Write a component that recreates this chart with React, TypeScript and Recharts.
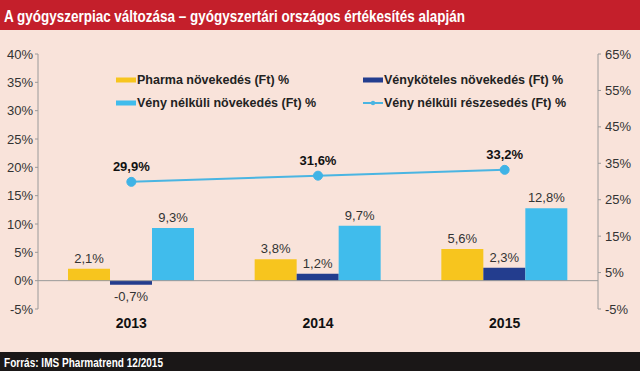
import React from 'react';
import {
  ComposedChart, Bar, Line, XAxis, YAxis, ReferenceLine, Legend, LabelList,
} from 'recharts';

const years = ['2013', '2014', '2015'];
const pharma = [2.1, 3.8, 5.6];
const venykoteles = [-0.7, 1.2, 2.3];
const venyNelkuliNov = [9.3, 9.7, 12.8];
const venyNelkuliResz = [29.9, 31.6, 33.2];
const leftTicks = [-5, 0, 5, 10, 15, 20, 25, 30, 35, 40];
const rightTicks = [-5, 5, 15, 25, 35, 45, 55, 65];

const seriesNames = {
  pharma: 'Pharma növekedés (Ft) %',
  venykoteles: 'Vényköteles növekedés (Ft) %',
  nov: 'Vény nélküli növekedés (Ft) %',
  resz: 'Vény nélküli részesedés (Ft) %',
};
const titleText = 'A gyógyszerpiac változása – gyógyszertári országos értékesítés alapján';
const sourceText = 'Forrás: IMS Pharmatrend 12/2015';

const data = years.map((y, i) => ({
  year: y,
  pharma: pharma[i],
  venykoteles: venykoteles[i],
  nov: venyNelkuliNov[i],
  resz: venyNelkuliResz[i],
}));

const C_YELLOW = '#f7c51e';
const C_DARK = '#233d8e';
const C_LIGHT = '#40bcec';
const C_LINE = '#4ab5e2';
const BG = '#f9e3da';
const FONT = '"Liberation Sans", Arial, sans-serif';

const fmt = (v: number) => `${String(v).replace('.', ',')}%`;

const BarLabel = (props: any) => {
  const { x, y, width, height, value } = props;
  const top = Math.min(y, y + height);
  const bottom = Math.max(y, y + height);
  const cx = x + width / 2;
  const ty = value >= 0 ? top - 6 : bottom + 16;
  return (
    <text x={cx} y={ty} textAnchor="middle" fontSize={13} fill="#333" fontFamily={FONT}>
      {fmt(value)}
    </text>
  );
};

const LineLabel = (props: any) => {
  const { x, y, value } = props;
  return (
    <text x={x} y={y - 11} textAnchor="middle" fontSize={13} fontWeight="bold" fill="#111" fontFamily={FONT}>
      {fmt(value)}
    </text>
  );
};

const XTick = (props: any) => {
  const { x, y, payload } = props;
  return (
    <text x={x} y={y + 19} textAnchor="middle" fontSize={14} fontWeight="bold" fill="#111" fontFamily={FONT}>
      {payload.value}
    </text>
  );
};

const legendItems = [
  { key: 'pharma', color: C_YELLOW, type: 'rect', left: 116, top: 74 },
  { key: 'venykoteles', color: C_DARK, type: 'rect', left: 363, top: 74 },
  { key: 'nov', color: C_LIGHT, type: 'rect', left: 116, top: 97 },
  { key: 'resz', color: C_LINE, type: 'line', left: 363, top: 97 },
];

const LegendContent = () => (
  <div style={{ position: 'relative', width: 640, height: 60 }}>
    {legendItems.map((it) => (
      <div
        key={it.key}
        style={{
          position: 'absolute', left: it.left, top: it.top - 68, height: 12,
          display: 'flex', alignItems: 'center', whiteSpace: 'nowrap',
        }}
      >
        <svg width={20} height={10} style={{ marginRight: 1 }}>
          {it.type === 'rect' ? (
            <rect x={0} y={2.5} width={20} height={5} fill={it.color} />
          ) : (
            <g>
              <line x1={0} y1={5} x2={20} y2={5} stroke={it.color} strokeWidth={2} />
              <circle cx={10} cy={5} r={2.2} fill={it.color} />
            </g>
          )}
        </svg>
        <span style={{ fontFamily: FONT, fontWeight: 'bold', fontSize: 12.5, color: '#222' }}>
          {(seriesNames as any)[it.key]}
        </span>
      </div>
    ))}
  </div>
);

export default function App() {
  return (
    <div style={{ position: 'absolute', left: 0, top: 0, width: 640, height: 371, background: BG, overflow: 'hidden' }}>
      <svg width={640} height={30} style={{ position: 'absolute', left: 0, top: 0 }}>
        <rect x={0} y={0} width={640} height={30} fill="#c41f2b" />
        <text
          x={4} y={22} fill="#fff" fontSize={17} fontWeight="bold"
          fontFamily='"Liberation Sans Narrow", "Liberation Sans", Arial, sans-serif'
          textLength={461} lengthAdjust="spacingAndGlyphs"
        >
          {titleText}
        </text>
      </svg>
      <div style={{ position: 'absolute', left: 0, top: 0 }}>
        <ComposedChart
          width={640}
          height={371}
          data={data}
          margin={{ top: 54, right: 0, bottom: 42, left: 0 }}
          barGap={0}
          barSize={42}
        >
          <XAxis
            dataKey="year"
            axisLine={false}
            tickLine={false}
            tickSize={0}
            tickMargin={0}
            height={20}
            tick={<XTick />}
            interval={0}
          />
          <YAxis
            yAxisId="left"
            orientation="left"
            width={38}
            domain={[-5, 40]}
            ticks={leftTicks}
            tickFormatter={(v: number) => `${v}%`}
            axisLine={{ stroke: '#9a9a9a' }}
            tickLine={{ stroke: '#9a9a9a' }}
            tickSize={3}
            tickMargin={2}
            tick={{ fontSize: 13, fill: '#333', fontFamily: FONT }}
            interval={0}
          />
          <YAxis
            yAxisId="right"
            orientation="right"
            width={42}
            domain={[-5, 65]}
            ticks={rightTicks}
            tickFormatter={(v: number) => `${v}%`}
            axisLine={{ stroke: '#9a9a9a' }}
            tickLine={{ stroke: '#9a9a9a' }}
            tickSize={3}
            tickMargin={4}
            tick={{ fontSize: 13, fill: '#333', fontFamily: FONT }}
            interval={0}
          />
          <ReferenceLine yAxisId="left" y={0} stroke="#9a9a9a" strokeWidth={1} />
          <Legend
            layout="vertical"
            align="center"
            verticalAlign="middle"
            content={<LegendContent />}
            wrapperStyle={{ top: 68, left: 0, width: 640, height: 60 }}
          />
          <Bar yAxisId="left" dataKey="pharma" name={seriesNames.pharma} fill={C_YELLOW} isAnimationActive={false}>
            <LabelList dataKey="pharma" content={<BarLabel />} />
          </Bar>
          <Bar yAxisId="left" dataKey="venykoteles" name={seriesNames.venykoteles} fill={C_DARK} isAnimationActive={false}>
            <LabelList dataKey="venykoteles" content={<BarLabel />} />
          </Bar>
          <Bar yAxisId="left" dataKey="nov" name={seriesNames.nov} fill={C_LIGHT} isAnimationActive={false}>
            <LabelList dataKey="nov" content={<BarLabel />} />
          </Bar>
          <Line
            yAxisId="right"
            dataKey="resz"
            name={seriesNames.resz}
            stroke={C_LINE}
            strokeWidth={2}
            dot={{ r: 4.5, fill: '#3fb3e6', stroke: '#3fb3e6', strokeWidth: 1 }}
            isAnimationActive={false}
          >
            <LabelList dataKey="resz" content={<LineLabel />} />
          </Line>
        </ComposedChart>
      </div>
      <svg width={640} height={19} style={{ position: 'absolute', left: 0, top: 352 }}>
        <rect x={0} y={0} width={640} height={19} fill="#1a1717" />
        <text
          x={4} y={15} fill="#fff" fontSize={13.5} fontWeight="bold"
          fontFamily='"Liberation Sans Narrow", "Liberation Sans", Arial, sans-serif'
          textLength={159} lengthAdjust="spacingAndGlyphs"
        >
          {sourceText}
        </text>
      </svg>
    </div>
  );
}
